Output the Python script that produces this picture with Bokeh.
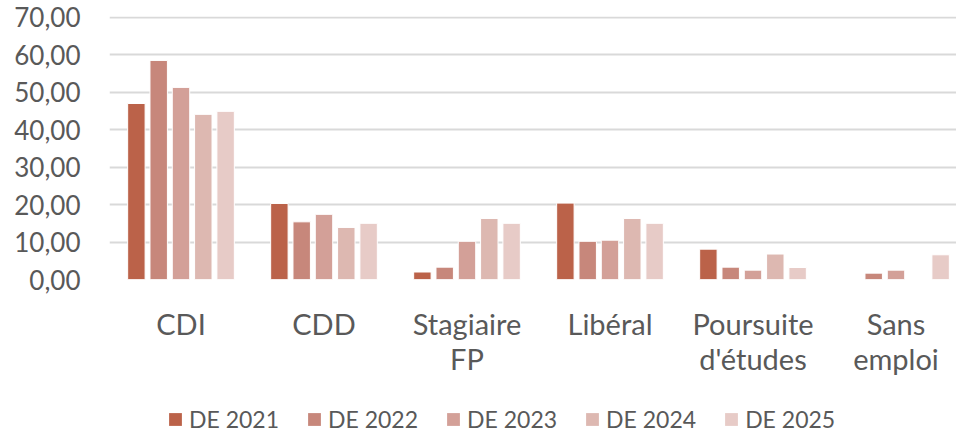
import numpy as np
from bokeh.plotting import figure
from bokeh.layouts import column
from bokeh.models import Range1d, FixedTicker, Legend, LegendItem, ColumnDataSource
from bokeh.embed import file_html
from bokeh.resources import INLINE

categories = ["CDI", "CDD", "Stagiaire\nFP", "Libéral", "Poursuite\nd'études", "Sans\nemploi"]
series_names = ["DE 2021", "DE 2022", "DE 2023", "DE 2024", "DE 2025"]
de_2021 = [47.0, 20.3, 2.0, 20.4, 8.1, None]
de_2022 = [58.5, 15.4, 3.3, 10.2, 3.3, 1.7]
de_2023 = [51.3, 17.4, 10.2, 10.5, 2.5, 2.5]
de_2024 = [44.1, 13.9, 16.3, 16.3, 6.8, None]
de_2025 = [44.9, 15.0, 15.0, 15.0, 3.2, 6.6]
series_values = [de_2021, de_2022, de_2023, de_2024, de_2025]
colors = ["#BB6249", "#C7877B", "#D3A098", "#DDB8B1", "#E7CBC7"]
y_ticks = [0, 10, 20, 30, 40, 50, 60, 70]
y_tick_labels = ["0,00", "10,00", "20,00", "30,00", "40,00", "50,00", "60,00", "70,00"]

FONT = "Lato"
TXT = "#595959"

p = figure(width=956, height=395, output_backend="svg", toolbar_location=None,
           x_range=Range1d(0, 847 / 143), y_range=Range1d(0, 70.23),
           min_border_left=109, min_border_right=0, min_border_top=16, min_border_bottom=116)
p.outline_line_color = None
p.background_fill_color = "white"

centers = np.arange(len(categories)) + 0.5
step = 0.156
bw = 0.122
for i, (name, vals, col) in enumerate(zip(series_names, series_values, colors)):
    top = np.array([np.nan if v is None else v for v in vals], dtype=float)
    src = ColumnDataSource(dict(x=centers + (i - 2) * step, top=top))
    p.vbar(x="x", top="top", bottom=0, width=bw, source=src,
           fill_color=col, line_color="white", line_width=1)

# axes
xa = p.xaxis[0]
xa.ticker = FixedTicker(ticks=list(centers))
xa.major_label_overrides = {float(c): lab for c, lab in zip(centers, categories)}
xa.axis_line_color = None
xa.major_tick_line_color = None
xa.minor_tick_line_color = None
xa.major_label_text_font = FONT
xa.major_label_text_font_size = "29px"
xa.major_label_text_color = TXT
xa.major_label_standoff = 20
xa.major_label_text_line_height = 1.0

ya = p.yaxis[0]
ya.ticker = FixedTicker(ticks=y_ticks)
ya.major_label_overrides = {t: l for t, l in zip(y_ticks, y_tick_labels)}
ya.axis_line_color = None
ya.major_tick_line_color = None
ya.minor_tick_line_color = None
ya.major_label_text_font = FONT
ya.major_label_text_font_size = "26px"
ya.major_label_text_color = TXT
ya.major_label_standoff = 23

p.xgrid.grid_line_color = None
p.ygrid.ticker = FixedTicker(ticks=y_ticks)
p.ygrid.grid_line_color = "#D9D9D9"
p.ygrid.grid_line_width = 2

# legend strip (separate figure below the chart, using the series colours)
p2 = figure(width=956, height=37, output_backend="svg", toolbar_location=None,
            x_range=Range1d(0, 1), y_range=Range1d(0, 1), x_axis_type=None, y_axis_type=None,
            min_border_left=0, min_border_right=0, min_border_top=0, min_border_bottom=0)
p2.outline_line_color = None
p2.xgrid.visible = False
p2.ygrid.visible = False
items = []
for name, col in zip(series_names, colors):
    r = p2.vbar(x=[-10], top=[-10], bottom=-11, width=0.1, fill_color=col, line_color=None)
    items.append(LegendItem(label=name, renderers=[r]))
legend = Legend(items=items, orientation="horizontal", location=(58, -1),
                label_text_font=FONT, label_text_font_size="23px", label_text_color=TXT,
                glyph_width=16, glyph_height=16, label_standoff=6, spacing=27,
                padding=0, margin=0, border_line_color=None, background_fill_alpha=0)
p2.add_layout(legend, "center")

layout = column(p, p2, spacing=0)
open("out.html", "w").write(file_html(layout, INLINE))
